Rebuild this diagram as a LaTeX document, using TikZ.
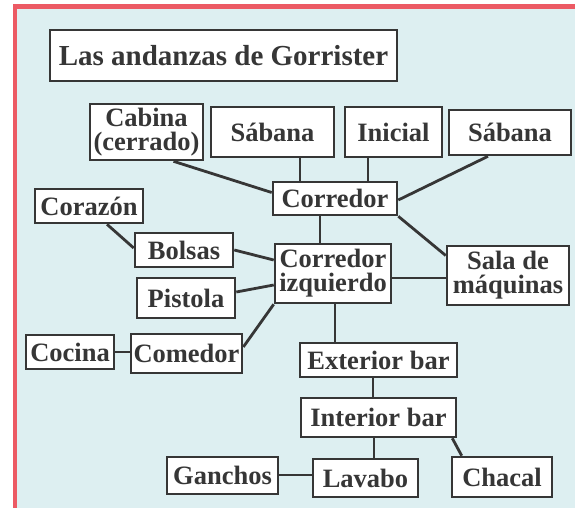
\documentclass[tikz,border=0pt]{standalone}
\usepackage{fontspec}
\setmainfont{Liberation Serif}

\definecolor{framered}{HTML}{EC5A64}
\definecolor{paper}{HTML}{DDEFF1}
\definecolor{ink}{HTML}{363636}

\begin{document}
\begin{tikzpicture}[
    x=1pt, y=-1pt,
    room/.style={rectangle, draw=ink, fill=white, line width=2.6pt, inner sep=0pt, align=center, text=ink, font=\fontsize{26.5}{24}\selectfont\bfseries},
    titlebox/.style={room, font=\fontsize{29}{30}\selectfont\bfseries},
    link/.style={draw=ink, line width=2.8pt},
]

% Frame
\useasboundingbox (0,0) rectangle (575,508);
\fill[white] (0,0) rectangle (575,508);
\fill[paper] (15,6.5) rectangle (575,508);
\draw[framered, line width=4.5pt] (580,6.5) -- (15,6.5) -- (15,512);

% Nodes
\node[titlebox, minimum width=347pt, minimum height=51pt] (title) at (223.5,55.5) {Las andanzas de Gorrister};

\node[room, minimum width=113pt, minimum height=56pt] (cabina) at (146.5,132) {Cabina\\(cerrado)};
\node[room, minimum width=123pt, minimum height=50pt] (sabanaA) at (272.5,132) {Sábana};
\node[room, minimum width=97pt, minimum height=50pt] (inicial) at (393.5,132) {Inicial};
\node[room, minimum width=122pt, minimum height=45pt] (sabanaB) at (510,132.5) {Sábana};

\node[room, minimum width=124pt, minimum height=33pt] (corredor) at (335,198.5) {Corredor};
\node[room, minimum width=108pt, minimum height=34pt] (corazon) at (89,206) {Corazón};
\node[room, minimum width=98pt, minimum height=34pt] (bolsas) at (184,250) {Bolsas};
\node[room, minimum width=98pt, minimum height=40pt] (pistola) at (186,298) {Pistola};
\node[room, minimum width=116pt, minimum height=59pt] (corrIzq) at (333,273.5) {Corredor\\izquierdo};
\node[room, minimum width=122pt, minimum height=59pt] (sala) at (508,275.5) {Sala de\\máquinas};

\node[room, minimum width=88pt, minimum height=34pt] (cocina) at (70,352) {Cocina};
\node[room, minimum width=111pt, minimum height=39pt] (comedor) at (186.5,353.5) {Comedor};
\node[room, minimum width=157pt, minimum height=34pt] (exterior) at (378.5,360) {Exterior bar};
\node[room, minimum width=155pt, minimum height=39pt] (interior) at (378.5,417.5) {Interior bar};

\node[room, minimum width=111pt, minimum height=37pt] (ganchos) at (222.5,475.5) {Ganchos};
\node[room, minimum width=105pt, minimum height=38pt] (lavabo) at (365.5,478) {Lavabo};
\node[room, minimum width=100pt, minimum height=40pt] (chacal) at (502,477) {Chacal};

% Lines
\draw[link] ([xshift=27pt]cabina.south) -- ([yshift=6pt]corredor.west);
\draw[link] ([xshift=27.5pt]sabanaA.south) -- ([xshift=27.5pt]sabanaA.south |- corredor.north);
\draw[link] ([xshift=-25.5pt]inicial.south) -- ([xshift=-25.5pt]inicial.south |- corredor.north);
\draw[link] ([xshift=-22pt]sabanaB.south) -- ([yshift=-1.5pt]corredor.east);

\draw[link] ([xshift=-15pt]corredor.south) -- ([xshift=-15pt]corredor.south |- corrIzq.north);
\draw[link] (corredor.south east) -- ([yshift=20pt]sala.west);
\draw[link] ([yshift=-4.5pt]corrIzq.east) -- ([yshift=-4.5pt]corrIzq.east -| sala.west);

\draw[link] ([xshift=18pt]corazon.south) -- ([yshift=2pt]bolsas.west);
\draw[link] (bolsas.east) -- ([yshift=13.5pt]corrIzq.west);
\draw[link] ([yshift=6pt]pistola.east) -- ([yshift=-11.5pt]corrIzq.west);
\draw[link] (corrIzq.south west) -- ([yshift=6.5pt]comedor.east);
\draw[link] (cocina.east) -- (cocina.east -| comedor.west);
\draw[link] ([xshift=2pt]corrIzq.south) -- ([xshift=2pt]corrIzq.south |- exterior.north);

\draw[link] ([xshift=-5.5pt]exterior.south) -- ([xshift=-5.5pt]exterior.south |- interior.north);
\draw[link] ([xshift=-4.5pt]interior.south) -- ([xshift=-4.5pt]interior.south |- lavabo.north);
\draw[link] ([xshift=-5pt]interior.south east) -- ([xshift=11pt]chacal.north west);
\draw[link] ([yshift=0.5pt]ganchos.east) -- ([yshift=0.5pt]ganchos.east -| lavabo.west);

\end{tikzpicture}
\end{document}
